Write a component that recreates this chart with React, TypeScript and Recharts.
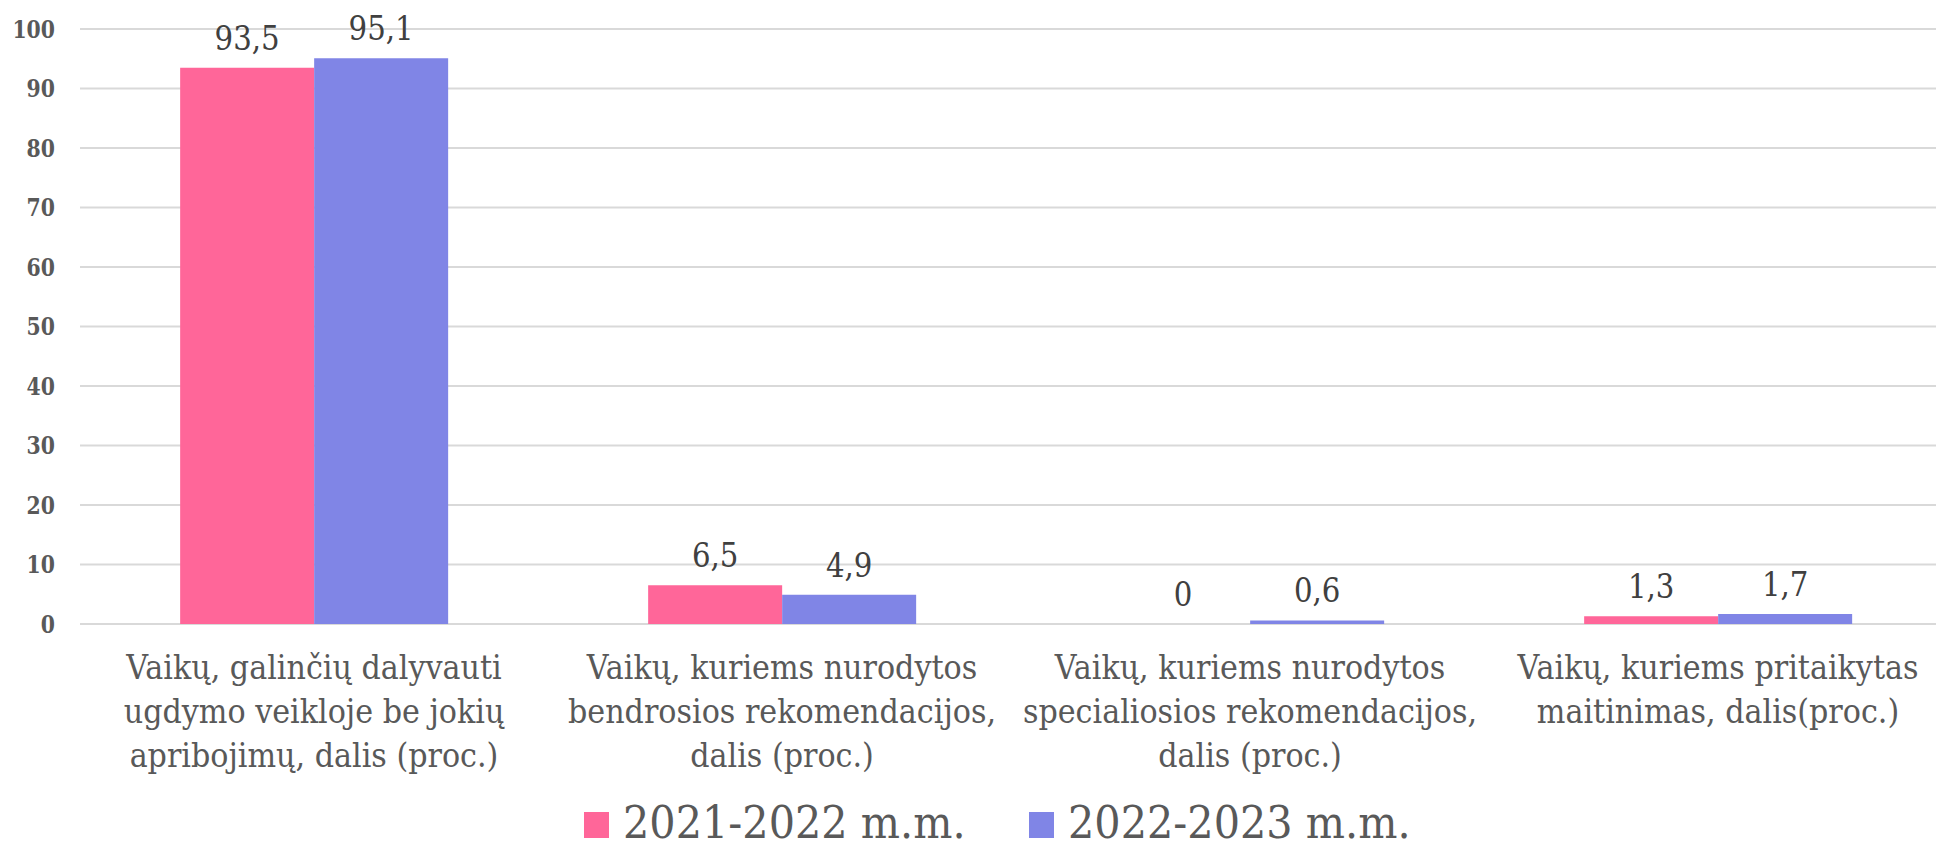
import {
  Bar,
  BarChart,
  CartesianGrid,
  LabelList,
  Legend,
  XAxis,
  YAxis,
} from "recharts";

const categoryLines: string[][] = [
  ["Vaikų, galinčių dalyvauti", "ugdymo veikloje be jokių", "apribojimų, dalis (proc.)"],
  ["Vaikų, kuriems nurodytos", "bendrosios rekomendacijos,", "dalis (proc.)"],
  ["Vaikų, kuriems nurodytos", "specialiosios rekomendacijos,", "dalis (proc.)"],
  ["Vaikų, kuriems pritaikytas", "maitinimas, dalis(proc.)"],
];
const categories = categoryLines.map((lines) => lines.join(" "));

const values2021 = [93.5, 6.5, 0, 1.3];
const values2022 = [95.1, 4.9, 0.6, 1.7];

const yTicks = [0, 10, 20, 30, 40, 50, 60, 70, 80, 90, 100];

const SERIES = [
  { key: "y2021", label: "2021-2022 m.m.", color: "#ff6699" },
  { key: "y2022", label: "2022-2023 m.m.", color: "#8085e6" },
];

const data = categories.map((name, i) => ({
  name,
  y2021: values2021[i],
  y2022: values2022[i],
}));

// no Times here, so DejaVu Serif squeezed a bit to get Times-like widths
const FONT = "DejaVu Serif";

const formatValue = (v: unknown) =>
  typeof v === "number" ? String(v).replace(".", ",") : String(v ?? "");

const CategoryTick = (props: any) => {
  const { x, y, payload } = props;
  const lines = categoryLines[payload.index] ?? [String(payload.value)];
  return (
    <g transform={`translate(${x},${y + 55}) scale(0.915,1)`}>
      <text
        x={0}
        y={0}
        textAnchor="middle"
        fill="#595959"
        fontSize={33}
        fontFamily={FONT}
      >
        {lines.map((line, i) => (
          <tspan key={i} x={0} dy={i === 0 ? 0 : 44}>
            {line}
          </tspan>
        ))}
      </text>
    </g>
  );
};

const ValueTick = (props: any) => {
  const { x, y, payload } = props;
  return (
    <g transform={`translate(${x},${y}) scale(0.85,1)`}>
      <text
        x={0}
        y={0}
        dy="0.36em"
        textAnchor="end"
        fill="#595959"
        fontSize={24}
        fontWeight="bold"
        fontFamily={FONT}
      >
        {payload.value}
      </text>
    </g>
  );
};

const BarValueLabel = (props: any) => {
  const vb = props.viewBox ?? props;
  const cx = vb.x + vb.width / 2;
  const top = Math.min(vb.y, vb.y + vb.height);
  return (
    <g transform={`translate(${cx},${top - 18}) scale(0.86,1)`}>
      <text
        x={0}
        y={0}
        textAnchor="middle"
        fill="#404040"
        fontSize={34}
        fontFamily={FONT}
      >
        {formatValue(props.value)}
      </text>
    </g>
  );
};

const LegendContent = () => (
  <svg width={1952} height={61} style={{ display: "block" }}>
    {SERIES.map((s, i) => {
      const left = i === 0 ? 584 : 1029;
      return (
        <g key={s.key}>
          <rect x={left} y={28} width={25} height={26} fill={s.color} />
          <g transform={`translate(${left + 39},54) scale(0.92,1)`}>
            <text x={0} y={0} fontSize={45} fontFamily={FONT} fill="#595959">
              {s.label}
            </text>
          </g>
        </g>
      );
    })}
  </svg>
);

const App = () => {
  return (
    <div
      style={{
        position: "absolute",
        left: 0,
        top: 0,
        width: 1936,
        height: 845,
        overflow: "hidden",
        background: "#ffffff",
      }}
    >
      <BarChart
        width={1952}
        height={845}
        data={data}
        margin={{ top: 29, right: 0, bottom: 0, left: 0 }}
        barCategoryGap="21.4%"
        barGap={0}
      >
        <CartesianGrid vertical={false} stroke="#d9d9d9" strokeWidth={2} />
        <XAxis
          dataKey="name"
          axisLine={false}
          tickLine={false}
          tickSize={0}
          tickMargin={0}
          height={160}
          interval={0}
          tick={<CategoryTick />}
        />
        <YAxis
          domain={[0, 100]}
          ticks={yTicks}
          width={80}
          axisLine={false}
          tickLine={false}
          tickSize={0}
          tickMargin={25}
          tick={<ValueTick />}
        />
        <Legend verticalAlign="bottom" height={61} content={<LegendContent />} />
        {SERIES.map((s) => (
          <Bar
            key={s.key}
            dataKey={s.key}
            name={s.label}
            fill={s.color}
            minPointSize={0.01}
            isAnimationActive={false}
          >
            <LabelList dataKey={s.key} content={<BarValueLabel />} />
          </Bar>
        ))}
      </BarChart>
    </div>
  );
};

export default App;
